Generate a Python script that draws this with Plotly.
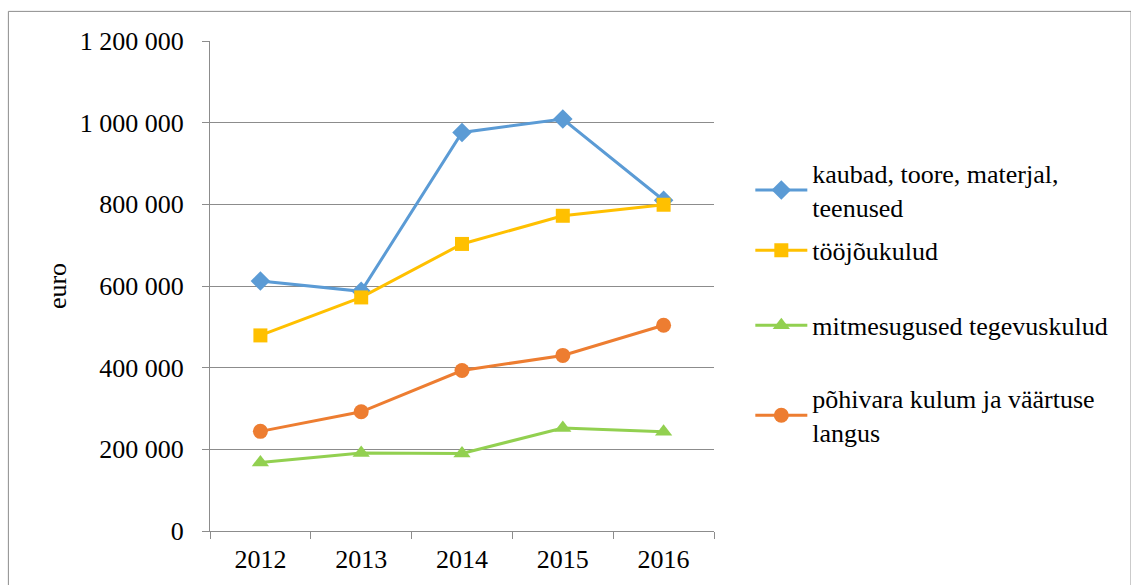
import plotly.graph_objects as go

years = ["2012", "2013", "2014", "2015", "2016"]
kaubad = [612000, 587000, 976000, 1009000, 810000]
toojou = [479000, 572000, 703000, 772000, 799000]
mitmesugused = [168000, 191000, 190000, 252000, 243000]
pohivara = [244000, 292000, 393000, 430000, 504000]

names = [
    "kaubad, toore, materjal,<br>teenused",
    "tööjõukulud",
    "mitmesugused tegevuskulud",
    "põhivara kulum ja väärtuse<br>langus",
]
colors = ["#5B9BD5", "#FFC000", "#92D050", "#ED7D31"]
symbols = ["diamond", "square", "triangle-up", "circle"]
msizes = [15, 14, 15, 15]
series = [kaubad, toojou, mitmesugused, pohivara]
legends = ["legend", "legend2", "legend3", "legend4"]

y_tickvals = [0, 200000, 400000, 600000, 800000, 1000000, 1200000]
y_ticktext = ["0", "200 000", "400 000", "600 000", "800 000", "1 000 000", "1 200 000"]

W, H = 1131, 585
L, R, T, B = 210, 713.7, 41.1, 530.7
pw, ph = R - L, B - T

def px(x):
    return (x - L) / pw

def py(y):
    return (B - y) / ph

FONT = "Liberation Serif"
FS = 26

fig = go.Figure()
for name, vals, c, s, ms, lg in zip(names, series, colors, symbols, msizes, legends):
    fig.add_trace(go.Scatter(
        x=years, y=vals, name=name, mode="lines+markers",
        line=dict(color=c, width=3),
        marker=dict(symbol=s, size=ms, color=c, line=dict(width=0)),
        legend=lg,
    ))

# vertical pixel centres of each legend entry block
leg_center = [190.2, 250.2, 325.2, 415.2]
leg_common = dict(
    font=dict(family=FONT, size=FS, color="black"),
    bgcolor="rgba(0,0,0,0)", borderwidth=0,
    xanchor="left", yanchor="middle", itemwidth=52,
)
lay_leg = {}
for lg, cy in zip(legends, leg_center):
    lay_leg[lg] = dict(x=px(750), y=py(cy), **leg_common)

fig.update_layout(
    width=W, height=H,
    margin=dict(l=L, r=W - R, t=T, b=H - B, pad=0),
    paper_bgcolor="white", plot_bgcolor="white",
    font=dict(family=FONT, size=FS, color="black"),
    showlegend=True,
    **lay_leg,
    xaxis=dict(
        type="category", range=[-0.5, 4.5],
        showline=True, linecolor="#8C8C8C", linewidth=1,
        ticks="outside", tickson="boundaries", ticklen=7, tickcolor="#8C8C8C",
        showgrid=False, zeroline=False,
        tickfont=dict(family=FONT, size=FS, color="black"),
        ticklabelstandoff=5,
    ),
    yaxis=dict(
        range=[0, 1200000],
        tickvals=y_tickvals, ticktext=y_ticktext,
        showline=True, linecolor="#8C8C8C", linewidth=1,
        ticks="outside", ticklen=7, tickcolor="#8C8C8C",
        showgrid=True, gridcolor="#8C8C8C", gridwidth=1,
        zeroline=False,
        tickfont=dict(family=FONT, size=FS, color="black"),
        ticklabelstandoff=13,
        title=dict(text="euro", font=dict(family=FONT, size=FS, color="black"), standoff=5),
    ),
)

fig.add_shape(
    type="rect", xref="paper", yref="paper",
    x0=px(8.5), x1=px(1130.5), y0=py(600), y1=py(11.5),
    line=dict(color="#8C8C8C", width=1), fillcolor="rgba(0,0,0,0)", layer="below",
)

fig.write_html("out.html")
